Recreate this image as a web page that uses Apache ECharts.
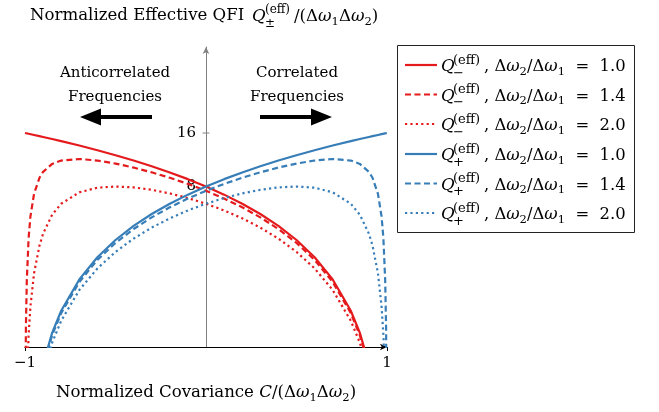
<!DOCTYPE html>
<html>
<head>
<meta charset="utf-8">
<script src="https://cdn.jsdelivr.net/npm/echarts@6/dist/echarts.min.js"></script>
<style>
html,body{margin:0;padding:0;background:#fff;}
#chart{width:659px;height:412px;}
</style>
</head>
<body>
<div id="chart"></div>
<script>
// Normalized covariance C/(Δω1Δω2) sample points
const cov = [-1, -0.999, -0.995, -0.99, -0.98, -0.97, -0.95, -0.92, -0.9, -0.85, -0.8, -0.7, -0.6, -0.5, -0.4, -0.3, -0.2, -0.1, 0, 0.1, 0.2, 0.3, 0.4, 0.5, 0.6, 0.7, 0.8, 0.85, 0.9, 0.92, 0.95, 0.97, 0.98, 0.99, 0.995, 0.999, 1];

// Q_-^(eff) (log axis, values below 1 fall under the axis)
const qMinus10 = [16, 15.992, 15.96, 15.92, 15.84, 15.76, 15.6, 15.36, 15.2, 14.8, 14.4, 13.6, 12.8, 12, 11.2, 10.4, 9.6, 8.8, 8, 7.2, 6.4, 5.6, 4.8, 4, 3.2, 2.4, 1.6, 1.2, 0.8, 0.64, 0.4, 0.24, 0.16, 0.08, 0.04, 0.008, null];
const qMinus14 = [null, 0.275, 1.284, 2.371, 4.107, 5.426, 7.28, 8.96, 9.673, 10.717, 11.2, 11.424, 11.2, 10.769, 10.226, 9.615, 8.96, 8.275, 7.568, 6.844, 6.109, 5.364, 4.612, 3.853, 3.09, 2.322, 1.551, 1.164, 0.777, 0.622, 0.389, 0.233, 0.156, 0.078, 0.039, 0.008, null];
const qMinus20 = [null, 0.064, 0.313, 0.612, 1.173, 1.689, 2.6, 3.724, 4.343, 5.55, 6.4, 7.418, 7.877, 8, 7.906, 7.663, 7.314, 6.887, 6.4, 5.867, 5.297, 4.697, 4.073, 3.429, 2.768, 2.092, 1.405, 1.057, 0.707, 0.566, 0.355, 0.213, 0.142, 0.071, 0.036, 0.007, null];
// Q_+^(eff)
const qPlus10 = [null, 0.008, 0.04, 0.08, 0.16, 0.24, 0.4, 0.64, 0.8, 1.2, 1.6, 2.4, 3.2, 4, 4.8, 5.6, 6.4, 7.2, 8, 8.8, 9.6, 10.4, 11.2, 12, 12.8, 13.6, 14.4, 14.8, 15.2, 15.36, 15.6, 15.76, 15.84, 15.92, 15.96, 15.992, 16];
const qPlus14 = [null, 0.008, 0.039, 0.078, 0.156, 0.233, 0.389, 0.622, 0.777, 1.164, 1.551, 2.322, 3.09, 3.853, 4.612, 5.364, 6.109, 6.844, 7.568, 8.275, 8.96, 9.615, 10.226, 10.769, 11.2, 11.424, 11.2, 10.717, 9.673, 8.96, 7.28, 5.426, 4.107, 2.371, 1.284, 0.275, null];
const qPlus20 = [null, 0.007, 0.036, 0.071, 0.142, 0.213, 0.355, 0.566, 0.707, 1.057, 1.405, 2.092, 2.768, 3.429, 4.073, 4.697, 5.297, 5.867, 6.4, 6.887, 7.314, 7.663, 7.906, 8, 7.877, 7.418, 6.4, 5.55, 4.343, 3.724, 2.6, 1.689, 1.173, 0.612, 0.313, 0.064, null];

const xTickVals = [-1, 1];
const xTickLabels = ['\u22121', '1'];
const yTickVals = [8, 16];
const yTickLabels = ['8', '16'];

const legendSign = ['\u2212', '\u2212', '\u2212', '+', '+', '+'];
const legendRatio = ['1.0', '1.4', '2.0', '1.0', '1.4', '2.0'];

const RED = '#e41a1c', BLUE = '#377eb8';
const FF = '"DejaVu Serif", serif';
const FS = 15;     // annotation / tick label size
const FT = 16.6;   // axis titles & legend size

const seriesDefs = [
  {arr: qMinus10, color: RED, type: 'solid'},
  {arr: qMinus14, color: RED, type: 'dashed'},
  {arr: qMinus20, color: RED, type: 'dotted'},
  {arr: qPlus10, color: BLUE, type: 'solid'},
  {arr: qPlus14, color: BLUE, type: 'dashed'},
  {arr: qPlus20, color: BLUE, type: 'dotted'}
];
const dashOf = t => t === 'solid' ? 'solid' : (t === 'dashed' ? [6, 3.5] : [2.2, 3.2]);

const lineSeries = seriesDefs.map((d, k) => ({
  type: 'line',
  name: 'Q' + legendSign[k] + legendRatio[k],
  data: cov.map((c, i) => [c, d.arr[i] == null ? '-' : d.arr[i]]),
  showSymbol: false,
  symbol: 'none',
  clip: true,
  smooth: false,
  connectNulls: false,
  lineStyle: {color: d.color, width: 2.2, type: dashOf(d.type), cap: 'butt'},
  itemStyle: {color: d.color},
  animation: false,
  silent: true,
  z: 3
}));

const tickSeries = {
  type: 'scatter',
  data: yTickVals.map(v => [0, v]),
  symbol: 'rect',
  symbolSize: [7, 1.2],
  itemStyle: {color: '#808080'},
  silent: true,
  animation: false,
  z: 1
};

const richMath = (fs) => ({
  m: {fontSize: fs, fontFamily: FF, lineHeight: 22, color: '#000', fill: '#000'},
  i: {fontSize: fs, fontFamily: FF, fontStyle: 'italic', lineHeight: 22, color: '#000', fill: '#000'},
  s: {fontSize: 11.5, fontFamily: FF, lineHeight: 13, verticalAlign: 'bottom', color: '#000', fill: '#000'}
});

// Legend (drawn as graphic)
const rowY = [65, 94.5, 124, 154, 183.5, 213];
const legendEls = [{
  type: 'rect', shape: {x: 397.5, y: 45.5, width: 237, height: 187},
  style: {fill: '#fff', stroke: '#222', lineWidth: 1}, z: 10
}];
seriesDefs.forEach((d, k) => {
  const y = rowY[k];
  legendEls.push({
    type: 'line', shape: {x1: 405, y1: y, x2: 437, y2: y},
    style: {stroke: d.color, lineWidth: 2.2, lineDash: d.type === 'solid' ? null : dashOf(d.type)}, z: 11
  });
  legendEls.push({type: 'text', z: 11, style: {text: 'Q', x: 441, y: y + 2, font: 'italic ' + FT + 'px ' + FF, fill: '#000', textAlign: 'left', textVerticalAlign: 'middle'}});
  legendEls.push({type: 'text', z: 11, style: {text: '(eff)', x: 453, y: y - 4.5, font: '13px ' + FF, fill: '#000', textAlign: 'left', textVerticalAlign: 'middle'}});
  legendEls.push({type: 'text', z: 11, style: {text: legendSign[k], x: 453, y: y + 8.5, font: '13px ' + FF, fill: '#000', textAlign: 'left', textVerticalAlign: 'middle'}});
  legendEls.push({type: 'text', z: 11, style: {
    text: '{m|, \u0394}{i|\u03c9}{s|2}{m|/\u0394}{i|\u03c9}{s|1}{m|  =  ' + legendRatio[k] + '}',
    x: 484, y: y + 2, textAlign: 'left', textVerticalAlign: 'middle', fill: '#000',
    rich: richMath(16.4)
  }});
});

const titleEls = [
  {type: 'text', style: {text: 'Normalized Effective QFI', x: 30, y: 16, font: FT + 'px ' + FF, fill: '#000', textAlign: 'left', textVerticalAlign: 'middle'}},
  {type: 'text', style: {text: 'Q', x: 252, y: 17, font: 'italic ' + FT + 'px ' + FF, fill: '#000', textAlign: 'left', textVerticalAlign: 'middle'}},
  {type: 'text', style: {text: '(eff)', x: 265, y: 10, font: '12px ' + FF, fill: '#000', textAlign: 'left', textVerticalAlign: 'middle'}},
  {type: 'text', style: {text: '\u00b1', x: 265, y: 24, font: '12px ' + FF, fill: '#000', textAlign: 'left', textVerticalAlign: 'middle'}},
  {type: 'text', style: {text: '{m|/(\u0394}{i|\u03c9}{s|1}{m|\u0394}{i|\u03c9}{s|2}{m|)}', x: 294, y: 17, textAlign: 'left', textVerticalAlign: 'middle', rich: richMath(FT)}}
];

const annotEls = [
  {type: 'text', style: {text: 'Anticorrelated', x: 115, y: 73, font: FS + 'px ' + FF, fill: '#000', textAlign: 'center', textVerticalAlign: 'middle'}},
  {type: 'text', style: {text: 'Frequencies', x: 115, y: 97, font: FS + 'px ' + FF, fill: '#000', textAlign: 'center', textVerticalAlign: 'middle'}},
  {type: 'text', style: {text: 'Correlated', x: 297, y: 73, font: FS + 'px ' + FF, fill: '#000', textAlign: 'center', textVerticalAlign: 'middle'}},
  {type: 'text', style: {text: 'Frequencies', x: 297, y: 97, font: FS + 'px ' + FF, fill: '#000', textAlign: 'center', textVerticalAlign: 'middle'}},
  {type: 'polygon', shape: {points: [[80, 117], [101, 108.5], [101, 115], [152, 115], [152, 119], [101, 119], [101, 125.5]]}, style: {fill: '#000'}},
  {type: 'polygon', shape: {points: [[332, 117], [311, 108.5], [311, 115], [260, 115], [260, 119], [311, 119], [311, 125.5]]}, style: {fill: '#000'}}
];

const chart = echarts.init(document.getElementById('chart'), null, {renderer: 'canvas'});
chart.setOption({
  animation: false,
  backgroundColor: '#fff',
  grid: {left: 25, right: 272, top: 47, bottom: 65, containLabel: false, outerBoundsMode: 'none'},
  xAxis: {
    type: 'value', min: -1, max: 1, interval: 1,
    axisLine: {onZero: false, lineStyle: {color: '#000', width: 1}, symbol: ['none', 'arrow'], symbolSize: [5, 7]},
    axisTick: {show: true, length: 4, lineStyle: {color: '#000'}, customValues: xTickVals},
    axisLabel: {customValues: xTickVals, margin: 9, color: '#000', fontSize: FS, fontFamily: FF,
      formatter: v => { const i = xTickVals.indexOf(v); return i >= 0 ? xTickLabels[i] : ''; }},
    splitLine: {show: false},
    name: '{m|Normalized Covariance }{i|C}{m|/(\u0394}{i|\u03c9}{s|1}{m|\u0394}{i|\u03c9}{s|2}{m|)}',
    nameLocation: 'middle', nameGap: 35,
    nameTextStyle: {rich: richMath(FT), color: '#000'}
  },
  yAxis: {
    type: 'log', logBase: 2, min: 1, max: 48.76,
    position: 'left', offset: -181,
    axisLine: {onZero: false, lineStyle: {color: '#808080', width: 1}, symbol: ['none', 'arrow'], symbolSize: [5, 7]},
    axisTick: {show: false},
    axisLabel: {margin: 10, color: '#000', fontSize: FS, fontFamily: FF,
      formatter: v => { const i = yTickVals.indexOf(Math.round(v)); return (i >= 0 && Math.abs(v - yTickVals[i]) < 1e-6) ? yTickLabels[i] : ''; }},
    splitLine: {show: false},
    minorTick: {show: false}
  },
  series: [tickSeries].concat(lineSeries),
  graphic: {elements: titleEls.concat(annotEls, legendEls)}
});
</script>
</body>
</html>
